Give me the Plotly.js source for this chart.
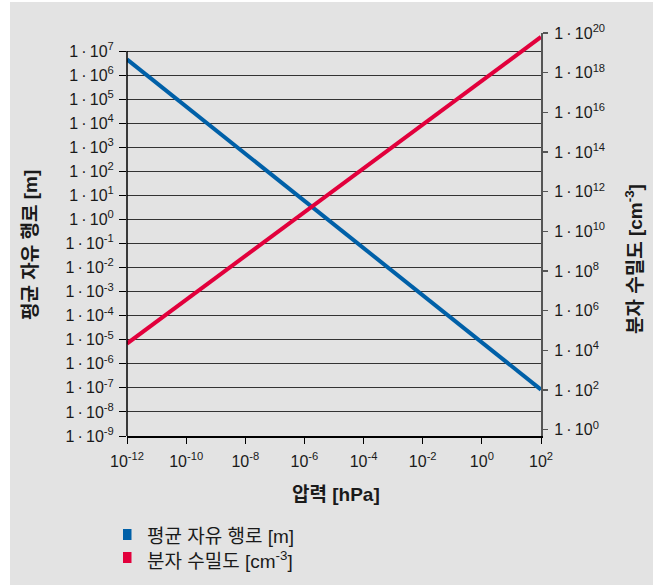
<!DOCTYPE html>
<html>
<head>
<meta charset="utf-8">
<script src="https://cdn.plot.ly/plotly-3.0.1.min.js"></script>
<style>
  html, body { margin: 0; padding: 0; background: #ffffff; }
  #chart { width: 653px; height: 585px; }
</style>
</head>
<body>
<div id="chart"></div>
<script>
// Pressure range (hPa) at the two ends of each line
const pressure = [1e-12, 1e2];
// Mean free path [m] (left axis)
const meanFreePath = [4.5e6, 8.5e-8];
// Molecular number density [cm^-3] (right axis)
const numberDensity = [2.2e4, 6.3e19];

// Tick values and labels
const xTickVals = [1e-12, 1e-10, 1e-8, 1e-6, 1e-4, 1e-2, 1e0, 1e2];
const xTickText = ['10<sup>-12</sup>', '10<sup>-10</sup>', '10<sup>-8</sup>', '10<sup>-6</sup>',
                   '10<sup>-4</sup>', '10<sup>-2</sup>', '10<sup>0</sup>', '10<sup>2</sup>'];
const leftExponents = [-9, -8, -7, -6, -5, -4, -3, -2, -1, 0, 1, 2, 3, 4, 5, 6, 7];
const rightExponents = [0, 2, 4, 6, 8, 10, 12, 14, 16, 18, 20];

const seriesNames = ['평균 자유 행로 [m]', '분자 수밀도 [cm<sup>-3</sup>]'];
const seriesColors = ['#0060a8', '#e2003c'];
const axisTitles = ['평균 자유 행로 [m]', '분자 수밀도 [cm<sup>-3</sup>]', '압력 [hPa]'];

const FONT = 'Liberation Sans, Arial, "Noto Sans CJK KR", sans-serif';
const TEXT = '#1a1a1a';
const TITLE_SIZE = 19;

// "1 · 10^n" with thin spaces around the dot
const powerLabel = e => '1\u2009·\u200910<sup>' + e + '</sup>';
const leftTickVals = leftExponents.map(e => Math.pow(10, e));
const leftTickText = leftExponents.map(powerLabel);
const rightTickVals = rightExponents.map(e => Math.pow(10, e));
const rightTickText = rightExponents.map(powerLabel);

const traces = [
  {
    x: pressure, y: meanFreePath, mode: 'lines', yaxis: 'y', name: seriesNames[0],
    line: { color: seriesColors[0], width: 4 }, showlegend: false, hoverinfo: 'skip'
  },
  {
    x: pressure, y: numberDensity, mode: 'lines', yaxis: 'y2', name: seriesNames[1],
    line: { color: seriesColors[1], width: 4 }, showlegend: false, hoverinfo: 'skip'
  }
];

// plot area in pixels
const W = 414, H = 403, L = 127, T = 33;
const px = v => (v - L) / W;
const py = v => (T + H - v) / H;
const LEFT_DECADES = 16.75;

// legend rows drawn below the chart: square swatch + label
const legendRows = [
  { top: 529, color: seriesColors[0], label: seriesNames[0] },
  { top: 552, color: seriesColors[1], label: seriesNames[1] }
];

const shapes = [
  // grey panel behind the chart
  {
    type: 'rect', xref: 'paper', yref: 'paper', layer: 'below',
    x0: px(10), x1: px(660), y0: py(600), y1: py(2),
    fillcolor: '#e3e3e3', line: { width: 0 }
  },
  // left axis line, from 1e-9 up to 1e7
  {
    type: 'line', xref: 'paper', yref: 'paper', x0: 0, x1: 0, y0: 0, y1: 16 / LEFT_DECADES,
    line: { color: '#000', width: 1.5 }
  }
];
const annotations = [
  {
    text: '<b>' + axisTitles[0] + '</b>', textangle: -90, showarrow: false,
    xref: 'paper', yref: 'paper', x: px(30), y: py(245), xanchor: 'center', yanchor: 'middle',
    font: { family: FONT, size: TITLE_SIZE, color: TEXT }
  },
  {
    text: '<b>' + axisTitles[1] + '</b>', textangle: -90, showarrow: false,
    xref: 'paper', yref: 'paper', x: px(634), y: py(259), xanchor: 'center', yanchor: 'middle',
    font: { family: FONT, size: TITLE_SIZE, color: TEXT }
  },
  {
    text: '<b>' + axisTitles[2] + '</b>', showarrow: false,
    xref: 'paper', yref: 'paper', x: px(336), y: py(494), xanchor: 'center', yanchor: 'middle',
    font: { family: FONT, size: TITLE_SIZE, color: TEXT }
  }
];
legendRows.forEach(r => {
  shapes.push({
    type: 'rect', xref: 'paper', yref: 'paper',
    x0: px(123), x1: px(131.5), y0: py(r.top + 11), y1: py(r.top),
    fillcolor: r.color, line: { width: 0 }
  });
  annotations.push({
    text: r.label, showarrow: false, xref: 'paper', yref: 'paper',
    x: px(145), y: py(r.top + 7.5), xanchor: 'left', yanchor: 'middle',
    font: { family: FONT, size: TITLE_SIZE, color: TEXT }
  });
});

const tickFont = { family: FONT, size: 16, color: TEXT };

const layout = {
  width: 653, height: 585,
  margin: { l: L, r: 653 - L - W, t: T, b: 585 - T - H, pad: 0 },
  paper_bgcolor: '#ffffff',
  plot_bgcolor: 'rgba(0,0,0,0)',
  font: { family: FONT, size: 16, color: TEXT },
  showlegend: false,
  xaxis: {
    type: 'log', range: [-12, 2], automargin: false,
    tickmode: 'array', tickvals: xTickVals, ticktext: xTickText,
    ticks: 'outside', ticklen: 6, tickcolor: '#000', tickwidth: 1,
    ticklabelstandoff: 4,
    showline: true, linecolor: '#000', linewidth: 1.5,
    showgrid: false, zeroline: false, tickfont: tickFont
  },
  yaxis: {
    type: 'log', range: [-9, -9 + LEFT_DECADES], automargin: false,
    tickmode: 'array', tickvals: leftTickVals, ticktext: leftTickText,
    ticks: 'outside', ticklen: 7, tickcolor: '#000', tickwidth: 1,
    ticklabelstandoff: 2,
    showline: false, showgrid: true, gridcolor: '#333333', gridwidth: 1,
    zeroline: false, tickfont: tickFont
  },
  yaxis2: {
    type: 'log', range: [-0.32, 20], overlaying: 'y', side: 'right', automargin: false,
    tickmode: 'array', tickvals: rightTickVals, ticktext: rightTickText,
    ticks: 'outside', ticklen: 5, tickcolor: '#555', tickwidth: 1.5,
    ticklabelstandoff: 3,
    showline: true, linecolor: '#555', linewidth: 2,
    showgrid: false, zeroline: false, tickfont: tickFont
  },
  shapes: shapes,
  annotations: annotations
};

Plotly.newPlot('chart', traces, layout, { staticPlot: true, displayModeBar: false });
</script>
</body>
</html>
